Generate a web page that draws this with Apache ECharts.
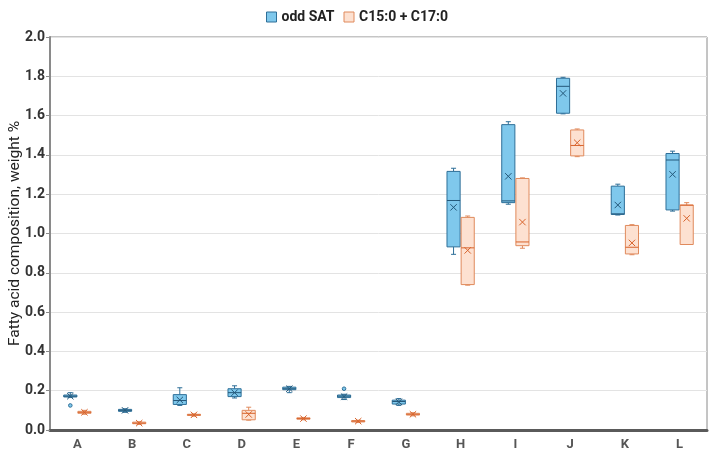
<!DOCTYPE html>
<html>
<head>
<meta charset="utf-8">
<script src="https://cdn.jsdelivr.net/npm/echarts@6/dist/echarts.min.js"></script>
<style>
  html, body { margin: 0; padding: 0; background: #fff; }
  #main { width: 714px; height: 457px; }
</style>
</head>
<body>
<div id="main"></div>
<script>
var categories = ['A', 'B', 'C', 'D', 'E', 'F', 'G', 'H', 'I', 'J', 'K', 'L'];
var yTicks = [0, 0.2, 0.4, 0.6, 0.8, 1.0, 1.2, 1.4, 1.6, 1.8, 2.0];

// [min, Q1, median, Q3, max, mean] per category
var oddSat = [
  [0.165, 0.168, 0.172, 0.178, 0.19, 0.172],
  [0.09, 0.095, 0.1, 0.105, 0.108, 0.1],
  [0.125, 0.13, 0.15, 0.18, 0.215, 0.153],
  [0.163, 0.17, 0.19, 0.21, 0.225, 0.19],
  [0.19, 0.205, 0.21, 0.218, 0.222, 0.21],
  [0.155, 0.165, 0.172, 0.178, 0.182, 0.17],
  [0.125, 0.132, 0.145, 0.152, 0.16, 0.143],
  [0.894, 0.932, 1.168, 1.316, 1.332, 1.133],
  [1.149, 1.157, 1.166, 1.554, 1.569, 1.291],
  [1.609, 1.612, 1.749, 1.790, 1.795, 1.713],
  [1.094, 1.097, 1.10, 1.241, 1.251, 1.145],
  [1.114, 1.120, 1.374, 1.407, 1.419, 1.301]
];
var c15c17 = [
  [0.08, 0.085, 0.09, 0.095, 0.1, 0.09],
  [0.028, 0.032, 0.035, 0.04, 0.042, 0.035],
  [0.07, 0.074, 0.077, 0.08, 0.082, 0.077],
  [0.05, 0.052, 0.085, 0.1, 0.116, 0.079],
  [0.052, 0.055, 0.058, 0.062, 0.064, 0.058],
  [0.038, 0.041, 0.045, 0.048, 0.05, 0.045],
  [0.072, 0.076, 0.08, 0.085, 0.088, 0.08],
  [0.737, 0.740, 0.927, 1.082, 1.089, 0.914],
  [0.925, 0.938, 0.957, 1.280, 1.283, 1.058],
  [1.391, 1.395, 1.448, 1.527, 1.532, 1.462],
  [0.892, 0.896, 0.930, 1.041, 1.045, 0.952],
  [0.944, 0.944, 1.144, 1.145, 1.157, 1.077]
];
// outliers: [category index, value]
var oddSatOutliers = [[0, 0.125], [5, 0.21]];
var c15c17Outliers = [];

var blue = { fill: '#7fc8ec', stroke: '#2e6f98', mark: '#24587a' };
var orange = { fill: '#fde1d1', stroke: '#e08a5c', mark: '#d8632b' };

function toRows(list) {
  return list.map(function (r, i) { return [i].concat(r); });
}

function boxRender(side, col) {
  return function (params, api) {
    var x = api.value(0);
    var band = api.size([1, 0])[0];
    var c = api.coord([x, 0])[0];
    var w = band * 0.24;
    var left = side < 0 ? c - w - 0.5 : c + 0.5;
    var mid = left + w / 2;
    var yMin = api.coord([x, api.value(1)])[1];
    var yQ1 = api.coord([x, api.value(2)])[1];
    var yMed = api.coord([x, api.value(3)])[1];
    var yQ3 = api.coord([x, api.value(4)])[1];
    var yMax = api.coord([x, api.value(5)])[1];
    var yMean = api.coord([x, api.value(6)])[1];
    var cap = 2.5, m = 3.2;
    var ls = { stroke: col.stroke, lineWidth: 1 };
    return {
      type: 'group',
      children: [
        { type: 'line', shape: { x1: mid, y1: yMax, x2: mid, y2: yQ3 }, style: ls },
        { type: 'line', shape: { x1: mid, y1: yQ1, x2: mid, y2: yMin }, style: ls },
        { type: 'line', shape: { x1: mid - cap, y1: yMax, x2: mid + cap, y2: yMax }, style: ls },
        { type: 'line', shape: { x1: mid - cap, y1: yMin, x2: mid + cap, y2: yMin }, style: ls },
        { type: 'rect', shape: { x: left, y: yQ3, width: w, height: Math.max(yQ1 - yQ3, 1) },
          style: { fill: col.fill, stroke: col.stroke, lineWidth: 1 } },
        { type: 'line', shape: { x1: left, y1: yMed, x2: left + w, y2: yMed }, style: { stroke: col.mark, lineWidth: 1 } },
        { type: 'line', shape: { x1: mid - m, y1: yMean - m, x2: mid + m, y2: yMean + m }, style: { stroke: col.mark, lineWidth: 1 } },
        { type: 'line', shape: { x1: mid - m, y1: yMean + m, x2: mid + m, y2: yMean - m }, style: { stroke: col.mark, lineWidth: 1 } }
      ]
    };
  };
}

function outlierRender(side, col) {
  return function (params, api) {
    var x = api.value(0);
    var band = api.size([1, 0])[0];
    var c = api.coord([x, 0])[0];
    var w = band * 0.24;
    var left = side < 0 ? c - w - 0.5 : c + 0.5;
    var p = api.coord([x, api.value(1)]);
    return {
      type: 'circle',
      shape: { cx: left + w / 2, cy: p[1], r: 1.8 },
      style: { fill: col.fill, stroke: col.stroke, lineWidth: 1 }
    };
  };
}

var chart = echarts.init(document.getElementById('main'));
var option = {
  animation: false,
  textStyle: { fontFamily: 'Roboto' },
  legend: {
    top: 5,
    left: 'center',
    icon: 'rect',
    itemWidth: 10,
    itemHeight: 10,
    itemGap: 9,
    textStyle: { fontSize: 14, fontWeight: 'bold', color: '#222', fontFamily: 'Roboto' },
    data: [
      { name: 'odd SAT', itemStyle: { color: blue.fill, borderColor: blue.stroke, borderWidth: 1 } },
      { name: 'C15:0 + C17:0', itemStyle: { color: orange.fill, borderColor: orange.stroke, borderWidth: 1 } }
    ]
  },
  grid: {
    left: 50, right: 7, top: 37, bottom: 27,
    containLabel: false,
    outerBoundsMode: 'none',
    show: true, borderColor: '#8a8a8a', borderWidth: 1
  },
  xAxis: {
    type: 'category',
    data: categories,
    axisLine: { lineStyle: { color: '#5a5a5a', width: 3 } },
    axisTick: { show: false },
    axisLabel: { color: '#555', fontWeight: 'bold', fontSize: 13, margin: 8 }
  },
  yAxis: {
    type: 'value',
    min: yTicks[0],
    max: yTicks[yTicks.length - 1],
    interval: 0.2,
    name: 'Fatty acid composition, weight %',
    nameLocation: 'middle',
    nameGap: 27,
    nameMoveOverlap: false,
    nameTextStyle: { fontSize: 15.5, color: '#222' },
    axisLine: { show: true, lineStyle: { color: '#8a8a8a', width: 2 } },
    axisTick: { show: true, length: 4, lineStyle: { color: '#8a8a8a' } },
    axisLabel: {
      color: '#333', fontWeight: 'bold', fontSize: 14, margin: 5,
      formatter: function (v) { return v.toFixed(1); }
    },
    splitLine: { lineStyle: { color: '#e3e3e3' } }
  },
  series: [
    {
      name: 'odd SAT', type: 'custom', color: blue.fill,
      renderItem: boxRender(-1, blue),
      encode: { x: 0, y: [1, 2, 3, 4, 5, 6] },
      data: toRows(oddSat)
    },
    {
      name: 'C15:0 + C17:0', type: 'custom', color: orange.fill,
      renderItem: boxRender(1, orange),
      encode: { x: 0, y: [1, 2, 3, 4, 5, 6] },
      data: toRows(c15c17)
    },
    {
      name: 'odd SAT', type: 'custom', color: blue.fill,
      renderItem: outlierRender(-1, blue),
      encode: { x: 0, y: 1 },
      data: oddSatOutliers
    },
    {
      name: 'C15:0 + C17:0', type: 'custom', color: orange.fill,
      renderItem: outlierRender(1, orange),
      encode: { x: 0, y: 1 },
      data: c15c17Outliers
    }
  ]
};
chart.setOption(option);
</script>
</body>
</html>
